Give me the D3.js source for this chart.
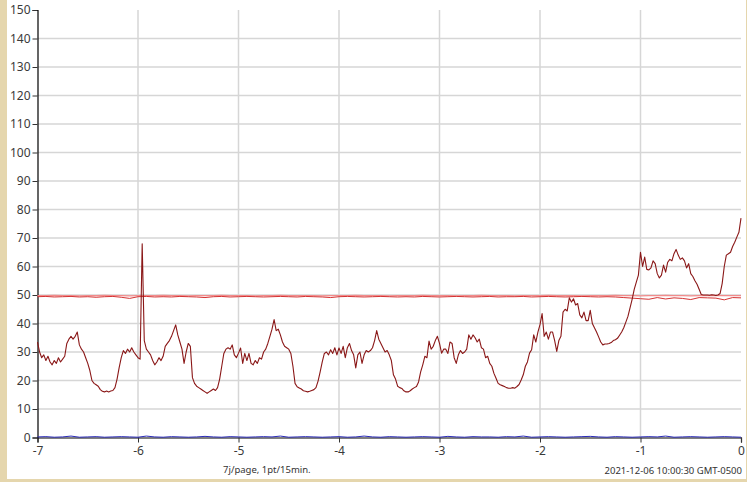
<!DOCTYPE html>
<html>
<head>
<meta charset="utf-8">
<script src="https://cdn.jsdelivr.net/npm/d3@7"></script>
<style>
  html, body { margin: 0; padding: 0; background: #fff; }
  svg { display: block; }
  text { font-family: "Noto Sans", "DejaVu Sans", sans-serif; }
</style>
</head>
<body>
<script>
// x axis: days back from now, 1 pt / 30 min for the main trace
var xTicks = [-7, -6, -5, -4, -3, -2, -1, 0];
var yTicks = [0, 10, 20, 30, 40, 50, 60, 70, 80, 90, 100, 110, 120, 130, 140, 150];

// main trace (dark red), step 1/48 day from -7 to 0
var mainValues = [
  33.5, 30, 28, 29, 27, 28.5, 26.5, 25.5, 27, 26, 28, 26.5, 27.5, 28.5, 33, 34.5,
  35.5, 34.5, 35.5, 37, 32.5, 31, 30, 28, 26, 23.5, 20, 19, 18.5, 18, 16.8, 16.2,
  16, 16.3, 16, 16.3, 16.5, 17.5, 20.5, 24.5, 28, 30.5, 29.5, 31, 30, 31.5, 30, 29,
  28, 27.5, 68, 34, 31, 30, 29, 27, 25.5, 26.5, 28, 27, 28.5, 32, 33, 34,
  35.5, 37.5, 39.5, 36, 33.5, 31, 26, 30, 33, 32, 21, 19, 18, 17.5, 17, 16.5,
  16, 15.5, 16, 16.5, 17, 16.5, 17.5, 20.5, 25, 29.5, 31, 31.5, 31, 32.5, 29, 28,
  29.6, 31.4, 26, 29.5, 27, 29.5, 26, 25.5, 27, 26, 28, 27.5, 30, 31, 33, 35.5,
  38, 41.4, 37.5, 38, 36, 33.5, 32, 31.5, 31, 29.5, 25, 19, 17.8, 17.4, 17, 16.4,
  16.2, 16, 16.2, 16.5, 16.8, 17.5, 19.8, 23, 26.5, 29.5, 30, 29, 30.8, 29.5, 31.5, 29,
  31.4, 29.5, 32, 28, 31.5, 33, 30.5, 29, 24.4, 29, 30, 26, 29, 30.5, 30, 30.5,
  31.5, 34, 37.5, 34.5, 33, 31.5, 30, 30.5, 29, 27, 22, 20.5, 18, 17.5, 17.2, 16.4,
  16, 16, 16.4, 17, 17.5, 17.9, 19.5, 23, 25.5, 28.5, 28, 33.8, 31, 32, 34, 35.5,
  33, 29.6, 31, 31, 29.5, 33.5, 33, 28, 26, 29, 30.5, 29.5, 30, 31, 36, 34.5,
  36, 35, 33.5, 34.5, 31.5, 31, 28, 28.5, 26, 25, 22.5, 20.8, 19, 18.5, 18.2, 17.9,
  17.5, 17.3, 17.3, 17.5, 17.3, 17.9, 18.6, 20.2, 22, 25, 26.5, 29.6, 30.8, 36, 33.5, 37,
  39.6, 43.5, 35.5, 37, 34.5, 37, 37, 34, 30.2, 34, 35.5, 44, 45, 44.4, 49, 47.5,
  48.7, 46.5, 47, 43, 42, 44, 41, 41, 44.6, 40, 38.5, 37, 35.3, 33.5, 32.5, 32.8,
  32.8, 33, 33.3, 34, 34.3, 34.8, 35.9, 37, 38.5, 40.5, 42.5, 45.5, 48.5, 52, 54.5, 57,
  65, 60, 63.3, 59, 58.8, 59.5, 62, 61, 57.5, 56, 57, 60.5, 58, 61.5, 62.5, 62,
  64.5, 66, 64, 62.5, 63, 62, 59.5, 61, 57.5, 56.5, 55, 53.8, 52, 50.2, 50, 50,
  50, 49.9, 50.1, 50, 49.8, 50, 50.5, 54, 60, 64, 64.5, 65, 67, 68.5, 70.3, 72,
  77
];

// setpoint-like traces, step 1/12 day (2 h)
var redValues = [
  49.4, 49.5, 49.3, 49.4, 49.5, 49.3, 49.4, 49.2, 49.4, 49.5, 49.2, 48.8, 49.4, 49.5, 49.3, 49.4,
  49.3, 49.5, 49.4, 49.3, 49.1, 49.4, 49.5, 49.3, 49.4, 49.5, 49.4, 49.3, 49.4, 49.5, 49.4, 49.3,
  49.5, 49.4, 49.3, 49.1, 49.4, 49.5, 49.4, 49.3, 49.4, 49.5, 49.4, 49.3, 49.4, 49.3, 49.5, 49.4,
  49.3, 49.4, 49.5, 49.4, 49.3, 49.4, 49.5, 49.3, 49.4, 49.4, 49.5, 49.3, 49.4, 49.5, 49.4, 49.3,
  49.4, 49.5, 49.4, 49.3, 49.4, 49.3, 49.1, 48.9, 48.7, 48.5, 49.1, 48.6, 49.0, 48.8, 48.4, 49.1,
  49.0, 48.9, 48.3, 49.1, 49.0
];
var pinkValues = [
  49.8, 49.8, 49.9, 49.8, 49.8, 49.7, 49.8, 49.8, 49.9, 49.8, 49.8, 49.7, 49.8, 49.8, 49.8, 49.9,
  49.8, 49.8, 49.7, 49.8, 49.8, 49.8, 49.9, 49.8, 49.8, 49.8, 49.7, 49.8, 49.8, 49.9, 49.8, 49.8,
  49.8, 49.8, 49.7, 49.8, 49.8, 49.8, 49.9, 49.8, 49.8, 49.8, 49.7, 49.8, 49.8, 49.8, 49.9, 49.8,
  49.8, 49.8, 49.7, 49.8, 49.8, 49.9, 49.8, 49.8, 49.8, 49.7, 49.8, 49.8, 49.8, 49.9, 49.8, 49.8,
  49.8, 49.7, 49.8, 49.8, 49.8, 49.9, 49.8, 49.8, 49.7, 49.8, 49.8, 49.9, 49.8, 49.8, 49.7, 49.8,
  49.8, 49.9, 49.8, 49.8, 49.8
];
var blueValues = [
  0.2, 0.3, 0.1, 0.2, 0.5, 0.1, 0.2, 0.3, 0.1, 0.2, 0.3, 0.2, 0.1, 0.5, 0.2, 0.1,
  0.3, 0.2, 0.1, 0.2, 0.4, 0.2, 0.1, 0.3, 0.2, 0.1, 0.2, 0.3, 0.2, 0.5, 0.1, 0.2,
  0.3, 0.2, 0.1, 0.2, 0.3, 0.1, 0.2, 0.5, 0.2, 0.1, 0.3, 0.2, 0.1, 0.2, 0.3, 0.2,
  0.1, 0.4, 0.2, 0.1, 0.3, 0.2, 0.2, 0.1, 0.3, 0.2, 0.5, 0.1, 0.2, 0.3, 0.2, 0.1,
  0.2, 0.3, 0.4, 0.2, 0.1, 0.3, 0.2, 0.1, 0.2, 0.3, 0.2, 0.5, 0.1, 0.2, 0.3, 0.2,
  0.1, 0.2, 0.3, 0.2, 0.1
];

var footLeft = "7j/page, 1pt/15min.";
var footRight = "2021-12-06 10:00:30 GMT-0500";

var W = 747, H = 482;
var svg = d3.select("body").append("svg")
    .attr("width", W)
    .attr("height", H);

// beige frame (left strip, bottom strip, thin right edge)
svg.append("rect").attr("x", 0).attr("y", 0).attr("width", W).attr("height", H).attr("fill", "#e5d6ad");
svg.append("rect").attr("x", 7).attr("y", 0).attr("width", W - 8).attr("height", 479).attr("fill", "#fff");

var x = d3.scaleLinear().domain([-7, 0]).range([37.5, 741]);
var y = d3.scaleLinear().domain([0, 150]).range([437.5, 10]);

// grid
svg.append("g")
    .selectAll("line.h")
    .data(yTicks.filter(function(d) { return d > 0 && d < 150; }))
    .enter().append("line")
    .attr("x1", x(-7)).attr("x2", x(0))
    .attr("y1", function(d) { return y(d); })
    .attr("y2", function(d) { return y(d); })
    .attr("stroke", "#d6d6d6")
    .attr("stroke-width", 1.5);

svg.append("g")
    .selectAll("line.v")
    .data(xTicks.filter(function(d) { return d > -7 && d < 0; }))
    .enter().append("line")
    .attr("x1", function(d) { return x(d); })
    .attr("x2", function(d) { return x(d); })
    .attr("y1", y(150)).attr("y2", y(0))
    .attr("stroke", "#d6d6d6")
    .attr("stroke-width", 1.5);

// axes
var yAxis = svg.append("g")
    .attr("transform", "translate(" + x(-7) + ",0)")
    .call(d3.axisLeft(y).tickValues(yTicks).tickSize(5).tickPadding(2));
var xAxis = svg.append("g")
    .attr("transform", "translate(0," + y(0) + ")")
    .call(d3.axisBottom(x).tickValues(xTicks).tickSize(5).tickPadding(4)
        .tickFormat(function(d) { return d === 0 ? "0" : "-" + Math.abs(d); }));

[yAxis, xAxis].forEach(function(a) {
    a.select(".domain").attr("stroke", "#000").attr("stroke-width", 1.2);
    a.selectAll(".tick line").attr("stroke", "#333");
    a.selectAll(".tick text")
        .attr("fill", "#3a3a3a")
        .style("font-size", "12px")
        .style("font-family", "'Noto Sans', 'DejaVu Sans', sans-serif");
});

function drawSeries(values, step, color, width) {
    var line = d3.line()
        .x(function(d, i) { return x(-7 + i * step); })
        .y(function(d) { return y(d); });
    svg.append("path")
        .datum(values)
        .attr("d", line)
        .attr("fill", "none")
        .attr("stroke", color)
        .attr("stroke-width", width)
        .attr("stroke-linejoin", "round");
}

drawSeries(pinkValues, 1 / 12, "#f28b8b", 1.2);
drawSeries(redValues, 1 / 12, "#d43434", 1);
drawSeries(blueValues, 1 / 12, "#2a2ab8", 1);
drawSeries(mainValues, 1 / 48, "#8a1717", 1.1);

svg.append("text")
    .attr("x", 223).attr("y", 473)
    .attr("fill", "#333")
    .style("font-size", "9.5px")
    .text(footLeft);
svg.append("text")
    .attr("x", 742).attr("y", 474)
    .attr("text-anchor", "end")
    .attr("fill", "#333")
    .style("font-size", "9.5px")
    .text(footRight);
</script>
</body>
</html>
